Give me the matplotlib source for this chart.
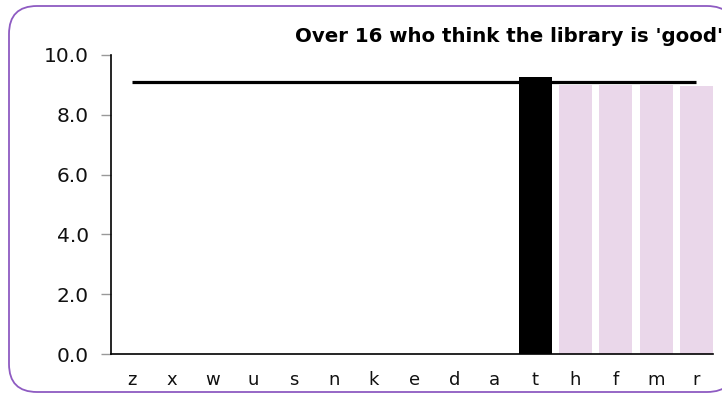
import matplotlib.pyplot as plt
from matplotlib.patches import FancyBboxPatch

categories = ['z', 'x', 'w', 'u', 's', 'n', 'k', 'e', 'd', 'a', 't', 'h', 'f', 'm', 'r']
bar_values = [0, 0, 0, 0, 0, 0, 0, 0, 0, 0, 9.27, 9.0, 9.0, 9.0, 8.96]
bar_colors = ['#EAD7EA'] * 10 + ['#000000'] + ['#EAD7EA'] * 4
line_values = [9.1] * 15
title = "Over 16 who think the library is 'good'"

fig = plt.figure(figsize=(7.22, 3.94), dpi=100)

# rounded border, drawn in pixel units on a background axes
bg = fig.add_axes([0, 0, 1, 1])
bg.set_xlim(0, 722)
bg.set_ylim(394, 0)
bg.axis('off')
bg.add_patch(FancyBboxPatch((9, 6), 726, 386, boxstyle='round,pad=0,rounding_size=28',
                            facecolor='white', edgecolor='#8E5BC2', linewidth=1.3))

ax = fig.add_axes([111 / 722, 1 - 354 / 394, (713 - 111) / 722, (354 - 55) / 394])
ax.patch.set_alpha(0)
x = list(range(len(categories)))
ax.bar(x, bar_values, width=0.82, color=bar_colors, zorder=2)
ax.plot(x, line_values, color='black', linewidth=2.3, zorder=3, solid_capstyle='butt')

ax.set_xlim(-0.52, 14.41)
ax.set_ylim(0, 10)
ax.set_yticks([0, 2, 4, 6, 8, 10])
ax.set_yticklabels([f'{v:.1f}' for v in [0, 2, 4, 6, 8, 10]], fontsize=14.5, color='#111111')
ax.set_xticks(x)
ax.set_xticklabels(categories, fontsize=13, color='#111111')
ax.tick_params(axis='y', length=7, width=1, color='#999999', pad=9)
ax.tick_params(axis='x', length=0, pad=12)
for s in ['top', 'right']:
    ax.spines[s].set_visible(False)
for s in ['left', 'bottom']:
    ax.spines[s].set_linewidth(1.2)
    ax.spines[s].set_color('black')

fig.text(723 / 722, 1 - 42 / 394, title, ha='right', va='baseline',
         fontsize=14.2, fontweight='bold', color='black')

fig.savefig('out.png', dpi=100)
